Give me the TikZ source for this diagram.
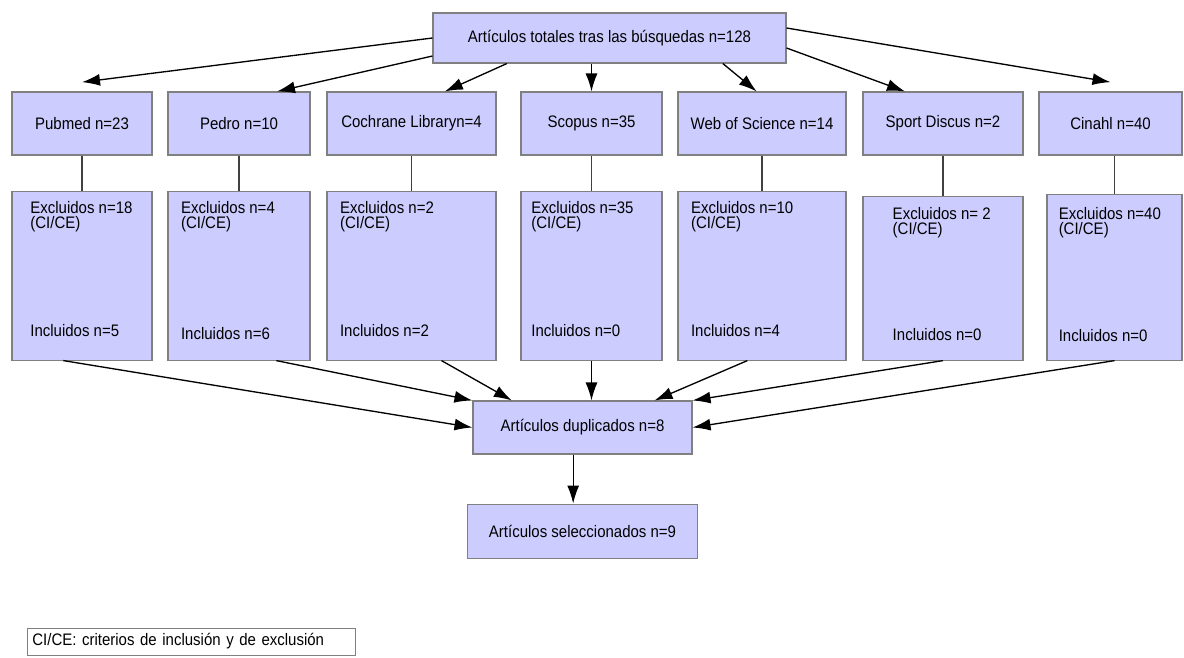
\documentclass[tikz,border=0pt]{standalone}
\usepackage{fontspec}
\setmainfont{Liberation Sans}[FakeStretch=0.9]
\usetikzlibrary{positioning,arrows.meta}
\definecolor{boxblue}{RGB}{204,204,255}

\begin{document}
\begin{tikzpicture}[
  x=0.75pt, y=-0.75pt,
  font=\fontsize{12.5}{11.3}\selectfont,
  box/.style={draw=black!50, line width=0.8pt, fill=boxblue, inner sep=2pt},
  db/.style={box, minimum height=47.25pt},
  txt/.style={inner sep=0pt, align=left},
  link/.style={line width=1.3pt, draw=black!75},
  arr/.style={-{Latex[length=13.5pt,width=9pt]}, line width=1pt},
  legend/.style={draw=black!50, line width=0.6pt, fill=white, inner xsep=4pt,
                 text width=238pt, align=left, minimum height=20.25pt}
]
\useasboundingbox (0,0) rectangle (1184,657);

\node[box, minimum width=264.75pt, minimum height=37.5pt] (total) at (609.5,38)
  {Artículos totales tras las búsquedas n=128};

\node[db, minimum width=105pt] (pubmed) at (82,123.5) {Pubmed n=23};
\node[db, minimum width=106.5pt] (pedro) at (239,123.5) {Pedro n=10};
\node[db, minimum width=126.75pt] (cochrane) at (411.5,123.5) {Cochrane Libraryn=4};
\node[db, minimum width=105.75pt] (scopus) at (591.5,123.5) {Scopus n=35};
\node[db, minimum width=126pt] (wos) at (762,123.5) {Web of Science n=14};
\node[db, minimum width=120pt] (sport) at (943,123.5) {Sport Discus n=2};
\node[db, minimum width=107.25pt] (cinahl) at (1110.5,123.5) {Cinahl n=40};

\draw[arr] (total.west) -- ([yshift=7pt]pubmed.north);
\draw[arr] ([yshift=-13.5pt]total.west) -- ([xshift=28.5pt]pedro.north);
\draw[arr] ([xshift=-77pt]total.south) -- ([xshift=25pt]cochrane.north);
\draw[arr] (total.south -| scopus.north) -- (scopus.north);
\draw[arr] ([xshift=85pt]total.south) -- ([xshift=-4pt]wos.north);
\draw[arr] ([yshift=-7.5pt]total.east) -- ([xshift=-28.5pt]sport.north);
\draw[arr] ([yshift=7.5pt]total.east) -- ([yshift=7pt]cinahl.north);

\node[box, minimum width=105pt, minimum height=126.75pt, below=26.25pt of pubmed] (pubmedx) {};
\node[txt, below right=7.8pt and 14pt of pubmedx.north west] (pubmedexc) {Excluidos n=18\\(CI/CE)};
\node[txt, above right=17.6pt and 14pt of pubmedx.south west] (pubmedinc) {Incluidos n=5};

\node[box, minimum width=106.5pt, minimum height=126.75pt, below=26.25pt of pedro] (pedrox) {};
\node[txt, below right=7.8pt and 10pt of pedrox.north west] (pedroexc) {Excluidos n=4\\(CI/CE)};
\node[txt, above right=15.4pt and 10pt of pedrox.south west] (pedroinc) {Incluidos n=6};

\node[box, minimum width=126.75pt, minimum height=126.75pt, below=26.25pt of cochrane] (cochranex) {};
\node[txt, below right=7.8pt and 10pt of cochranex.north west] (cochraneexc) {Excluidos n=2\\(CI/CE)};
\node[txt, above right=17.6pt and 10pt of cochranex.south west] (cochraneinc) {Incluidos n=2};

\node[box, minimum width=105.75pt, minimum height=126.75pt, below=26.25pt of scopus] (scopusx) {};
\node[txt, below right=7.8pt and 8pt of scopusx.north west] (scopusexc) {Excluidos n=35\\(CI/CE)};
\node[txt, above right=17.6pt and 8pt of scopusx.south west] (scopusinc) {Incluidos n=0};

\node[box, minimum width=126pt, minimum height=126.75pt, below=26.25pt of wos] (wosx) {};
\node[txt, below right=7.8pt and 10pt of wosx.north west] (wosexc) {Excluidos n=10\\(CI/CE)};
\node[txt, above right=17.6pt and 10pt of wosx.south west] (wosinc) {Incluidos n=4};

\node[box, minimum width=120pt, minimum height=123pt, below=30pt of sport] (sportx) {};
\node[txt, below right=8.5pt and 22.5pt of sportx.north west] (sportexc) {Excluidos n= 2\\(CI/CE)};
\node[txt, above right=14.6pt and 22.5pt of sportx.south west] (sportinc) {Incluidos n=0};

\node[box, minimum width=101.25pt, minimum height=124.5pt, below=28.5pt of cinahl, xshift=3pt] (cinahlx) {};
\node[txt, below right=10pt and 9pt of cinahlx.north west] (cinahlexc) {Excluidos n=40\\(CI/CE)};
\node[txt, above right=13.9pt and 9pt of cinahlx.south west] (cinahlinc) {Incluidos n=0};

\draw[link] (pubmed) -- (pubmedx);
\draw[link] (pedro) -- (pedrox);
\draw[link] (cochrane) -- (cochranex);
\draw[link] (scopus) -- (scopusx);
\draw[link] (wos) -- (wosx);
\draw[link] (sport) -- (sportx);
\draw[link] (cinahlx.north |- cinahl.south) -- (cinahlx.north);

\node[box, minimum width=164.25pt, minimum height=39.75pt] (dup) at (582.5,427.5)
  {Artículos duplicados n=8};
\node[box, minimum width=172.5pt, minimum height=40.5pt, below=36.75pt of dup] (selec)
  {Artículos seleccionados n=9};

\draw[arr] ([xshift=-14pt]pubmedx.south) -- (dup.west);
\draw[arr] ([xshift=28pt]pedrox.south) -- (dup.north west);
\draw[arr] ([xshift=22.5pt]cochranex.south) -- ([xshift=-53pt]dup.north);
\draw[arr] (scopusx.south) -- (scopusx.south |- dup.north);
\draw[arr] ([xshift=-11pt]wosx.south) -- ([xshift=54pt]dup.north);
\draw[arr] (sportx.south) -- (dup.north east);
\draw[arr] (cinahlx.south) -- (dup.east);
\draw[arr] ([xshift=-7pt]dup.south) -- ([xshift=-7pt]dup.south |- selec.north);

\node[legend] (key) at (191,641.5) {CI/CE: criterios de inclusión y de exclusión};
\end{tikzpicture}
\end{document}
